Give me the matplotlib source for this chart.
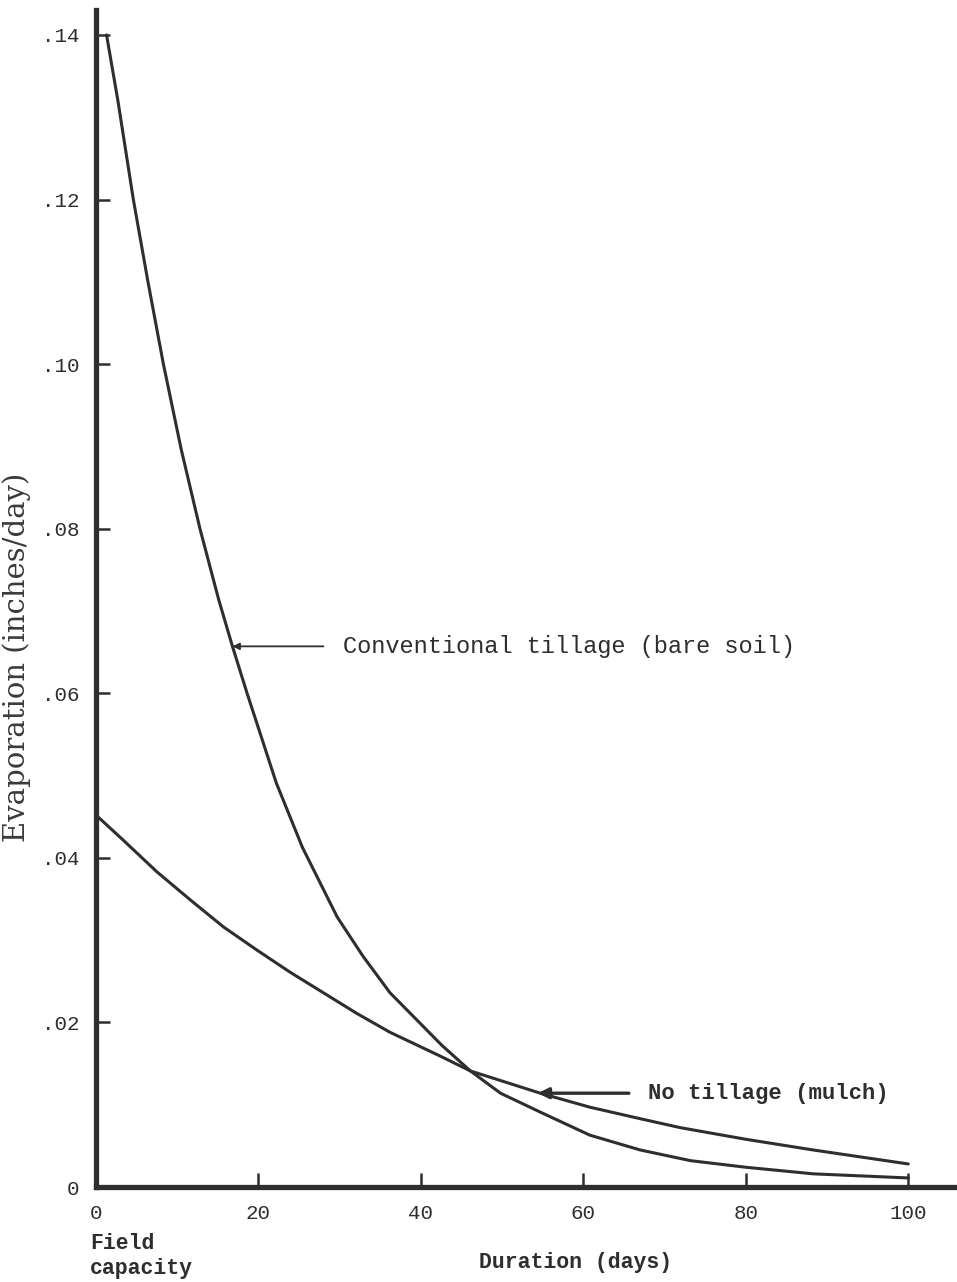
import matplotlib.pyplot as plt

# conventional tillage (bare soil)
conv_days = [1.3, 2.7, 4.6, 6.4, 8.3, 10.5, 12.8, 15.1, 16.8, 18.6, 22.2, 25.4, 29.7, 32.9, 36.2,
             40.3, 42.6, 46.1, 49.8, 54.7, 60.8, 67.0, 73.2, 80.0, 88.3, 100.0]
conv_evap = [0.140, 0.132, 0.120, 0.110, 0.100, 0.0896, 0.080, 0.0714, 0.0657, 0.060, 0.0491, 0.0413,
             0.0328, 0.0280, 0.0236, 0.0195, 0.0172, 0.0141, 0.0114, 0.0091, 0.0063, 0.0045, 0.0032,
             0.0024, 0.0016, 0.0011]

# no tillage (mulch)
mulch_days = [0, 3.3, 7.5, 11.6, 15.7, 19.8, 23.9, 28.0, 32.1, 36.2, 42.4, 46.1, 54.7, 60.8,
              67.0, 72.0, 80.0, 88.3, 100.0]
mulch_evap = [0.0452, 0.0422, 0.0383, 0.0349, 0.0316, 0.0288, 0.0261, 0.0236, 0.0211, 0.0188,
              0.0159, 0.0141, 0.0114, 0.0097, 0.0083, 0.0072, 0.0058, 0.0045, 0.0028]

x_ticks = [0, 20, 40, 60, 80, 100]
y_ticks = [0, 0.02, 0.04, 0.06, 0.08, 0.10, 0.12, 0.14]
y_tick_labels = ["0", ".02", ".04", ".06", ".08", ".10", ".12", ".14"]

mono = "Liberation Mono"
ink = "#2e2e2e"

fig = plt.figure(figsize=(9.57, 12.82), dpi=100)
ax = fig.add_axes([0.1003, 0.0741, 0.8997, 0.9179])

ax.plot(conv_days, conv_evap, color=ink, lw=2.2, solid_capstyle="round", solid_joinstyle="round")
ax.plot(mulch_days, mulch_evap, color=ink, lw=2.2, solid_capstyle="round", solid_joinstyle="round")

ax.set_xlim(0, 106)
ax.set_ylim(0, 0.143)

for s in ["top", "right"]:
    ax.spines[s].set_visible(False)
for s in ["left", "bottom"]:
    ax.spines[s].set_linewidth(3.8)
    ax.spines[s].set_color(ink)

ax.set_xticks(x_ticks)
ax.set_xticklabels([str(v) for v in x_ticks], fontfamily=mono, fontsize=15)
ax.set_yticks(y_ticks)
ax.set_yticklabels(y_tick_labels, fontfamily=mono, fontsize=15)
ax.tick_params(axis="both", direction="in", length=10, width=1.8, colors=ink)
ax.tick_params(axis="x", pad=12)
ax.tick_params(axis="y", pad=12)

ax.set_ylabel("Evaporation (inches/day)", fontfamily="DejaVu Serif", fontsize=21, color="#3a3a3a")
ax.yaxis.set_label_coords(-0.076, 0.45)

ax.annotate("Conventional tillage (bare soil)", xy=(16.8, 0.0657), xytext=(30.4, 0.0657),
            fontfamily=mono, fontsize=17, color=ink, va="center",
            arrowprops=dict(arrowstyle="-|>", color=ink, lw=1.3, mutation_scale=10,
                            shrinkA=12, shrinkB=0))
ax.annotate("No tillage (mulch)", xy=(54.4, 0.0114), xytext=(68.0, 0.0114),
            fontfamily=mono, fontsize=16, color=ink, va="center", fontweight="bold",
            arrowprops=dict(arrowstyle="-|>", color=ink, lw=2.4, mutation_scale=16,
                            shrinkA=12, shrinkB=0))

fig.text(0.094, 0.0205, "Field\ncapacity", fontfamily=mono, fontsize=15.5, color=ink,
         ha="left", va="center", linespacing=1.25, fontweight="bold")
fig.text(0.601, 0.0156, "Duration (days)", fontfamily=mono, fontsize=15.5, color=ink,
         ha="center", va="center", fontweight="bold")

fig.savefig("out.png", dpi=100, facecolor="white")
